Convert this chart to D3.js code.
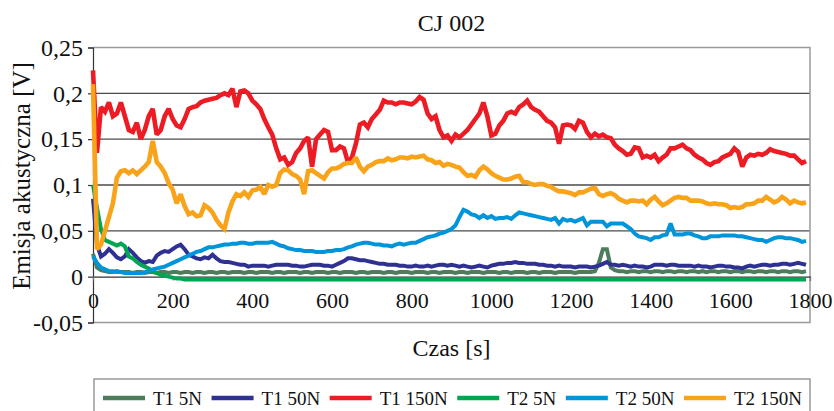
<!DOCTYPE html>
<html><head><meta charset="utf-8">
<script src="https://cdn.jsdelivr.net/npm/d3@7"></script>
<style>
html,body{margin:0;padding:0;background:#fff;}
svg{display:block;}
</style></head><body>
<svg id="chart" width="834" height="411"></svg>
<script>
// ---- DATA ----
const times = [
0,10,20,30,40,50,60,70,80,90,
100,110,120,130,140,150,160,170,180,190,
200,210,220,230,240,250,260,270,280,290,
300,310,320,330,340,350,360,370,380,390,
400,410,420,430,440,450,460,470,480,490,
500,510,520,530,540,550,560,570,580,590,
600,610,620,630,640,650,660,670,680,690,
700,710,720,730,740,750,760,770,780,790,
800,810,820,830,840,850,860,870,880,890,
900,910,920,930,940,950,960,970,980,990,
1000,1010,1020,1030,1040,1050,1060,1070,1080,1090,
1100,1110,1120,1130,1140,1150,1160,1170,1180,1190,
1200,1210,1220,1230,1240,1250,1260,1270,1280,1290,
1300,1310,1320,1330,1340,1350,1360,1370,1380,1390,
1400,1410,1420,1430,1440,1450,1460,1470,1480,1490,
1500,1510,1520,1530,1540,1550,1560,1570,1580,1590,
1600,1610,1620,1630,1640,1650,1660,1670,1680,1690,
1700,1710,1720,1730,1740,1750,1760,1770,1780,1790];

const seriesNames = ["T1 5N","T1 50N","T1 150N","T2 5N","T2 50N","T2 150N"];
const seriesColors = ["#4d7d5b","#2e3192","#ed1c24","#00a651","#0095da","#f9a31b"];

const t1_5N = [
0.025,0.010,0.007,0.006,0.005,0.005,0.006,0.005,0.005,0.005,
0.004,0.005,0.005,0.004,0.005,0.005,0.004,0.005,0.005,0.004,
0.005,0.005,0.004,0.005,0.005,0.004,0.005,0.005,0.004,0.005,
0.005,0.004,0.005,0.005,0.004,0.005,0.005,0.005,0.004,0.005,
0.005,0.004,0.005,0.005,0.005,0.004,0.005,0.005,0.004,0.005,
0.005,0.005,0.004,0.005,0.005,0.004,0.005,0.005,0.005,0.004,
0.005,0.005,0.004,0.005,0.005,0.005,0.004,0.005,0.005,0.004,
0.005,0.005,0.005,0.004,0.005,0.005,0.004,0.005,0.005,0.005,
0.004,0.005,0.005,0.005,0.004,0.005,0.005,0.004,0.005,0.005,
0.005,0.004,0.005,0.005,0.004,0.005,0.005,0.005,0.004,0.005,
0.005,0.005,0.004,0.005,0.005,0.004,0.005,0.005,0.005,0.004,
0.005,0.005,0.004,0.005,0.005,0.005,0.004,0.005,0.005,0.005,
0.005,0.004,0.005,0.005,0.005,0.005,0.006,0.015,0.030,0.030,
0.010,0.007,0.006,0.006,0.005,0.006,0.006,0.005,0.006,0.006,
0.005,0.006,0.006,0.005,0.006,0.006,0.005,0.006,0.006,0.005,
0.006,0.006,0.005,0.006,0.005,0.006,0.006,0.005,0.006,0.006,
0.005,0.006,0.006,0.005,0.006,0.006,0.005,0.006,0.006,0.005,
0.006,0.006,0.005,0.006,0.006,0.005,0.006,0.006,0.005,0.006];

const t1_50N = [
0.085,0.035,0.022,0.025,0.030,0.026,0.021,0.019,0.022,0.030,
0.026,0.021,0.017,0.015,0.017,0.016,0.023,0.026,0.028,0.027,
0.030,0.033,0.035,0.030,0.024,0.022,0.020,0.019,0.021,0.020,
0.024,0.020,0.017,0.016,0.016,0.015,0.014,0.013,0.013,0.011,
0.012,0.012,0.012,0.012,0.011,0.012,0.013,0.013,0.013,0.013,
0.012,0.012,0.011,0.011,0.012,0.013,0.013,0.013,0.012,0.012,
0.011,0.013,0.015,0.017,0.020,0.020,0.019,0.018,0.018,0.017,
0.016,0.015,0.014,0.014,0.013,0.013,0.013,0.012,0.012,0.011,
0.011,0.012,0.011,0.011,0.012,0.011,0.012,0.013,0.013,0.012,
0.013,0.012,0.011,0.012,0.011,0.010,0.011,0.012,0.011,0.010,
0.012,0.013,0.014,0.014,0.015,0.015,0.016,0.015,0.015,0.014,
0.014,0.014,0.013,0.013,0.012,0.012,0.011,0.012,0.011,0.011,
0.011,0.010,0.011,0.011,0.011,0.010,0.011,0.012,0.014,0.016,
0.013,0.013,0.012,0.013,0.012,0.011,0.012,0.011,0.011,0.010,
0.011,0.013,0.013,0.013,0.012,0.013,0.013,0.012,0.012,0.012,
0.012,0.011,0.012,0.011,0.011,0.010,0.011,0.012,0.012,0.011,
0.011,0.010,0.010,0.009,0.011,0.012,0.011,0.012,0.013,0.013,
0.012,0.013,0.013,0.014,0.014,0.013,0.014,0.015,0.014,0.013];

const t1_150N = [
0.225,0.135,0.185,0.180,0.190,0.175,0.178,0.190,0.175,0.160,
0.158,0.168,0.150,0.160,0.175,0.183,0.155,0.160,0.175,0.183,
0.172,0.165,0.163,0.172,0.183,0.185,0.186,0.190,0.192,0.193,
0.194,0.195,0.198,0.200,0.198,0.205,0.185,0.202,0.203,0.200,
0.192,0.188,0.183,0.172,0.163,0.155,0.140,0.128,0.130,0.122,
0.125,0.135,0.140,0.148,0.152,0.120,0.150,0.155,0.160,0.158,
0.138,0.138,0.142,0.140,0.125,0.130,0.145,0.166,0.168,0.163,
0.172,0.177,0.182,0.192,0.190,0.190,0.188,0.190,0.190,0.189,
0.188,0.191,0.196,0.193,0.178,0.172,0.175,0.160,0.152,0.154,
0.148,0.155,0.152,0.156,0.160,0.166,0.172,0.178,0.190,0.175,
0.154,0.156,0.165,0.170,0.178,0.180,0.178,0.185,0.188,0.192,
0.185,0.182,0.180,0.175,0.170,0.168,0.163,0.145,0.165,0.166,
0.165,0.161,0.170,0.168,0.158,0.152,0.156,0.153,0.155,0.152,
0.151,0.144,0.140,0.137,0.133,0.134,0.141,0.140,0.130,0.132,
0.130,0.133,0.126,0.130,0.133,0.140,0.140,0.142,0.144,0.140,
0.138,0.133,0.130,0.128,0.124,0.122,0.125,0.126,0.130,0.132,
0.134,0.140,0.136,0.120,0.130,0.133,0.132,0.134,0.133,0.135,
0.139,0.137,0.136,0.135,0.134,0.132,0.132,0.128,0.124,0.126];

const t2_5N = [
0.100,0.075,0.052,0.040,0.038,0.036,0.034,0.036,0.033,0.022,
0.020,0.016,0.013,0.011,0.009,0.006,0.004,0.002,0.001,0.000,
-0.001,-0.002,-0.002,-0.003,-0.003,-0.003,-0.003,-0.003,-0.003,-0.003,
-0.003,-0.003,-0.003,-0.003,-0.003,-0.003,-0.003,-0.003,-0.003,-0.003,
-0.003,-0.003,-0.003,-0.003,-0.003,-0.003,-0.003,-0.003,-0.003,-0.003,
-0.003,-0.003,-0.003,-0.003,-0.003,-0.003,-0.003,-0.003,-0.003,-0.003,
-0.003,-0.003,-0.003,-0.003,-0.003,-0.003,-0.003,-0.003,-0.003,-0.003,
-0.003,-0.003,-0.003,-0.003,-0.003,-0.003,-0.003,-0.003,-0.003,-0.003,
-0.003,-0.003,-0.003,-0.003,-0.003,-0.003,-0.003,-0.003,-0.003,-0.003,
-0.003,-0.003,-0.003,-0.003,-0.003,-0.003,-0.003,-0.003,-0.003,-0.003,
-0.003,-0.003,-0.003,-0.003,-0.003,-0.003,-0.003,-0.003,-0.003,-0.003,
-0.003,-0.003,-0.003,-0.003,-0.003,-0.003,-0.003,-0.003,-0.003,-0.003,
-0.003,-0.003,-0.003,-0.003,-0.003,-0.003,-0.003,-0.003,-0.003,-0.003,
-0.003,-0.003,-0.003,-0.003,-0.003,-0.003,-0.003,-0.003,-0.003,-0.003,
-0.003,-0.003,-0.003,-0.003,-0.003,-0.003,-0.003,-0.003,-0.003,-0.003,
-0.003,-0.003,-0.003,-0.003,-0.003,-0.003,-0.003,-0.003,-0.003,-0.003,
-0.003,-0.003,-0.003,-0.003,-0.003,-0.003,-0.003,-0.003,-0.003,-0.003,
-0.003,-0.003,-0.003,-0.003,-0.003,-0.003,-0.003,-0.003,-0.003,-0.003];

const t2_50N = [
0.022,0.015,0.010,0.008,0.006,0.006,0.005,0.005,0.004,0.004,
0.004,0.004,0.004,0.005,0.006,0.008,0.009,0.010,0.011,0.013,
0.015,0.017,0.019,0.021,0.023,0.025,0.027,0.028,0.030,0.032,
0.032,0.033,0.034,0.035,0.035,0.036,0.036,0.037,0.037,0.036,
0.036,0.037,0.037,0.037,0.037,0.038,0.036,0.034,0.033,0.031,
0.030,0.029,0.029,0.028,0.028,0.028,0.027,0.027,0.027,0.028,
0.028,0.029,0.029,0.030,0.032,0.033,0.035,0.036,0.037,0.037,
0.036,0.035,0.035,0.034,0.034,0.033,0.035,0.036,0.035,0.036,
0.037,0.037,0.039,0.041,0.043,0.044,0.045,0.047,0.048,0.050,
0.052,0.056,0.065,0.073,0.071,0.068,0.067,0.064,0.067,0.064,
0.066,0.063,0.064,0.064,0.065,0.063,0.067,0.070,0.069,0.068,
0.067,0.066,0.065,0.064,0.063,0.062,0.064,0.058,0.063,0.061,
0.062,0.060,0.062,0.064,0.056,0.060,0.060,0.060,0.060,0.055,
0.058,0.058,0.058,0.058,0.055,0.052,0.047,0.044,0.043,0.042,
0.040,0.043,0.043,0.045,0.046,0.058,0.046,0.046,0.046,0.047,
0.047,0.045,0.044,0.042,0.042,0.044,0.044,0.044,0.045,0.045,
0.045,0.045,0.044,0.044,0.043,0.042,0.041,0.040,0.040,0.038,
0.040,0.042,0.043,0.043,0.042,0.042,0.041,0.040,0.038,0.039];

const t2_150N = [
0.210,0.030,0.035,0.050,0.065,0.080,0.108,0.115,0.116,0.113,
0.116,0.112,0.116,0.120,0.125,0.148,0.125,0.120,0.113,0.102,
0.095,0.080,0.090,0.077,0.068,0.070,0.066,0.067,0.078,0.075,
0.070,0.062,0.056,0.052,0.070,0.082,0.090,0.088,0.092,0.087,
0.094,0.095,0.098,0.090,0.100,0.098,0.100,0.113,0.117,0.116,
0.112,0.110,0.106,0.090,0.115,0.116,0.113,0.110,0.107,0.114,
0.118,0.118,0.120,0.123,0.124,0.124,0.130,0.120,0.115,0.120,
0.122,0.125,0.126,0.126,0.129,0.127,0.128,0.130,0.130,0.129,
0.131,0.130,0.131,0.132,0.128,0.127,0.124,0.125,0.121,0.123,
0.122,0.120,0.119,0.114,0.110,0.111,0.109,0.116,0.120,0.117,
0.113,0.110,0.108,0.106,0.106,0.107,0.109,0.110,0.103,0.103,
0.101,0.100,0.101,0.101,0.099,0.098,0.095,0.093,0.093,0.092,
0.091,0.089,0.092,0.092,0.094,0.096,0.097,0.090,0.088,0.090,
0.091,0.089,0.085,0.083,0.081,0.083,0.083,0.082,0.083,0.079,
0.084,0.087,0.082,0.078,0.080,0.083,0.086,0.087,0.086,0.086,
0.083,0.083,0.083,0.082,0.080,0.079,0.080,0.079,0.079,0.078,
0.075,0.076,0.075,0.076,0.079,0.079,0.080,0.083,0.083,0.087,
0.084,0.081,0.083,0.087,0.084,0.080,0.083,0.081,0.080,0.081];

const yTicks = [-0.05, 0, 0.05, 0.1, 0.15, 0.2, 0.25];
const yTickLabels = ["-0,05", "0", "0,05", "0,1", "0,15", "0,2", "0,25"];
const xTicks = [0, 200, 400, 600, 800, 1000, 1200, 1400, 1600, 1800];
const xTickLabels = ["0", "200", "400", "600", "800", "1000", "1200", "1400", "1600", "1800"];
const chartTitle = "CJ 002";
const xTitle = "Czas [s]";
const yTitle = "Emisja akustyczna [V]";

// ---- CHART ----
const FONT = "Liberation Serif";
const seriesValues = [t1_5N, t1_50N, t1_150N, t2_5N, t2_50N, t2_150N];
const seriesWidths = [4, 4, 4.6, 4, 4, 4.6];
const svg = d3.select("#chart");
const L = 93, R = 810, T = 47.5, B = 322.5;
const x = d3.scaleLinear().domain([0, 1800]).range([L, R]);
const y = d3.scaleLinear().domain([-0.05, 0.25]).range([B, T]);

// gridlines
svg.append("g").selectAll("line").data(yTicks.filter(v => v > 0 && v < 0.25)).join("line")
  .attr("x1", L).attr("x2", R).attr("y1", d => y(d)).attr("y2", d => y(d))
  .attr("stroke", "#4a4a4a").attr("stroke-width", 1.3);
// plot border (top, right, bottom)
svg.append("path")
  .attr("d", `M${L},${T}H${R}V${B}H${L}`)
  .attr("fill", "none").attr("stroke", "#9a9a9a").attr("stroke-width", 1.5);

// y axis
const yAxis = d3.axisLeft(y).tickValues(yTicks).tickSize(5).tickPadding(5)
  .tickFormat((d, i) => yTickLabels[i]);
const gy = svg.append("g").attr("transform", `translate(${L},0)`).call(yAxis)
  .attr("font-family", FONT);
gy.select(".domain").attr("stroke", "#333").attr("stroke-width", 1.2);
gy.selectAll(".tick line").attr("stroke", "#333").attr("stroke-width", 1.2);
gy.selectAll("text").attr("font-family", FONT).attr("font-size", 24).attr("fill", "#111");

// x axis at y = 0
const xAxis = d3.axisBottom(x).tickValues(xTicks).tickSize(4).tickPadding(12)
  .tickFormat((d, i) => xTickLabels[i]);
const gx = svg.append("g").attr("transform", `translate(0,${y(0)})`).call(xAxis)
  .attr("font-family", FONT);
gx.select(".domain").attr("stroke", "#333").attr("stroke-width", 1.2);
gx.selectAll(".tick line").attr("stroke", "#777").attr("stroke-width", 1);
gx.selectAll("text").attr("font-family", FONT).attr("font-size", 22).attr("fill", "#111");

// series
const line = d3.line().x((d, i) => x(times[i])).y(d => y(d));
svg.append("g").selectAll("path").data(seriesValues).join("path")
  .attr("d", d => line(d))
  .attr("fill", "none")
  .attr("stroke", (d, i) => seriesColors[i])
  .attr("stroke-width", (d, i) => seriesWidths[i])
  .attr("stroke-linejoin", "miter")
  .attr("stroke-miterlimit", 2);

// titles
svg.append("text").attr("x", (L + R) / 2).attr("y", 31).attr("text-anchor", "middle")
  .attr("font-family", FONT).attr("font-size", 24).attr("fill", "#111").text(chartTitle);
svg.append("text").attr("x", (L + R) / 2).attr("y", 356).attr("text-anchor", "middle")
  .attr("font-family", FONT).attr("font-size", 24).attr("fill", "#111").text(xTitle);
svg.append("text").attr("transform", "translate(30,176) rotate(-90)").attr("text-anchor", "middle")
  .attr("font-family", FONT).attr("font-size", 25).attr("fill", "#111").text(yTitle);

// legend
const lg = svg.append("g");
lg.append("rect").attr("x", 94).attr("y", 379).attr("width", 716).attr("height", 45)
  .attr("fill", "#fff").attr("stroke", "#808080").attr("stroke-width", 1.2);
const texts = seriesNames.map((name, i) => lg.append("text").attr("y", 405)
  .attr("font-family", FONT).attr("font-size", 19).attr("fill", "#111").text(name));
const widths = texts.map(t => t.node().getComputedTextLength());
const startX = 103, endX = 802, lineW = 42, textGap = 8;
const gap = (endX - startX - d3.sum(widths) - seriesNames.length * (lineW + textGap)) / (seriesNames.length - 1);
let lx = startX;
seriesNames.forEach((name, i) => {
  lg.append("line").attr("x1", lx).attr("x2", lx + lineW).attr("y1", 398).attr("y2", 398)
    .attr("stroke", seriesColors[i]).attr("stroke-width", 4.5);
  texts[i].attr("x", lx + lineW + textGap);
  lx += lineW + textGap + widths[i] + gap;
});
</script>
</body></html>
